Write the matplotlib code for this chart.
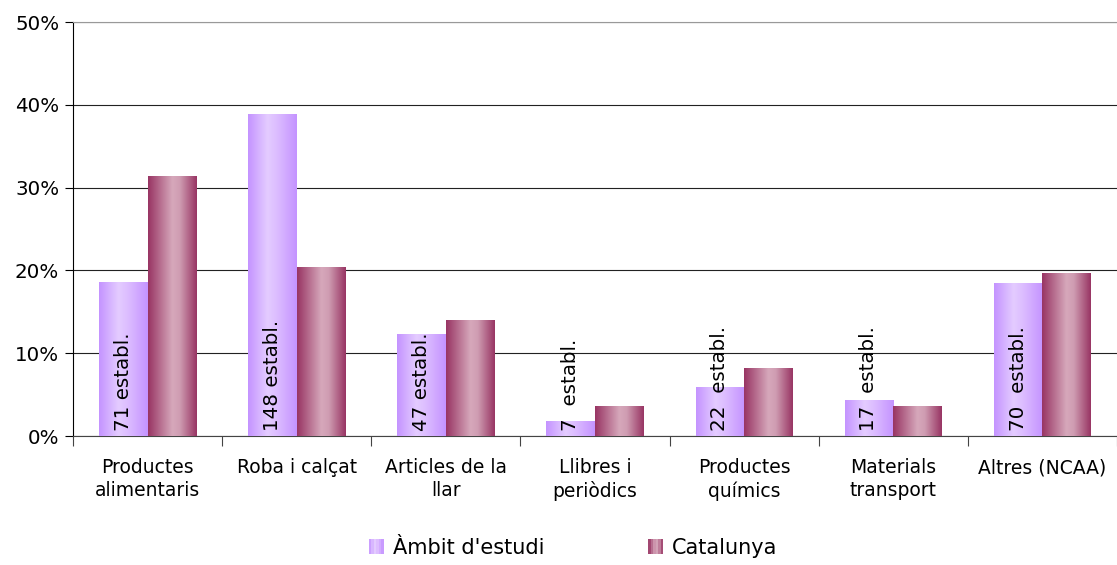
import numpy as np
import matplotlib
matplotlib.use("Agg")
import matplotlib.pyplot as plt
from matplotlib.colors import LinearSegmentedColormap
from matplotlib.patches import Rectangle
from matplotlib.legend_handler import HandlerBase

categories = ["Productes\nalimentaris", "Roba i calçat", "Articles de la\nllar",
              "Llibres i\nperiòdics", "Productes\nquímics", "Materials\ntransport",
              "Altres (NCAA)"]
ambit = [18.6, 38.8, 12.3, 1.8, 5.8, 4.3, 18.4]
catalunya = [31.3, 20.4, 13.9, 3.6, 8.1, 3.6, 19.6]
establ = ["71 establ.", "148 establ.", "47 establ.", "7  establ.",
          "22  establ.", "17  establ.", "70  establ."]
series_names = ["Àmbit d'estudi", "Catalunya"]

plt.rcParams['font.family'] = ['DejaVu Sans']

cmap_ambit = LinearSegmentedColormap.from_list(
    "ambit", [(0, "#c493ff"), (0.4, "#e4ccff"), (0.6, "#dcbcff"), (1, "#c493ff")])
cmap_cat = LinearSegmentedColormap.from_list(
    "cat", [(0, "#983463"), (0.5, "#d6a8bb"), (0.65, "#cf9db2"), (1, "#983463")])

fig = plt.figure(figsize=(11.17, 5.65), dpi=100)
ax = fig.add_axes([0.0654, 0.2283, 0.9346, 0.7327])

width = 0.326
x = np.arange(len(categories))
grad = np.linspace(0, 1, 256).reshape(1, -1)


def gradient_bar(x0, h, cmap):
    ax.imshow(grad, cmap=cmap, extent=(x0, x0 + width, 0, h), aspect='auto',
              interpolation='bicubic', zorder=3)


for i in x:
    gradient_bar(i - width, ambit[i], cmap_ambit)
    gradient_bar(i, catalunya[i], cmap_cat)
    ax.text(i - width / 2, 0.6, establ[i], rotation=90, ha='center', va='bottom',
            fontsize=14.3, color='black', zorder=4)

ax.set_xlim(-0.5, len(categories) - 0.5)
ax.set_ylim(0, 50)
ax.set_yticks(range(0, 51, 10))
ax.set_yticklabels([f"{v}%" for v in range(0, 51, 10)], fontsize=14.3)
ax.yaxis.grid(True, color='#222222', linewidth=0.8)
ax.set_axisbelow(True)

ax.set_xticks(x)
ax.set_xticklabels(categories, fontsize=13.5, linespacing=1.25)
ax.set_xticks(np.arange(-0.5, len(categories), 1), minor=True)
ax.tick_params(axis='x', which='major', length=0, pad=16)
ax.tick_params(axis='x', which='minor', length=7, width=0.8, direction='out', color='#444444')
ax.tick_params(axis='y', length=6, width=0.8, direction='out', pad=4)

ax.spines['right'].set_visible(False)
ax.spines['top'].set_color('#999999')
ax.spines['left'].set_color('black')
ax.spines['left'].set_linewidth(0.8)
ax.spines['bottom'].set_color('#444444')
ax.spines['bottom'].set_linewidth(0.8)


class GradientHandler(HandlerBase):
    def __init__(self, cmap):
        super().__init__()
        self.cmap = cmap

    def create_artists(self, legend, orig_handle, xdescent, ydescent, width, height,
                       fontsize, trans):
        n = 6
        side = min(width, height)
        artists = []
        for k in range(n):
            r = Rectangle((-xdescent + k * side / n, -ydescent), side / n, side,
                          facecolor=self.cmap((k + 0.5) / n), edgecolor='none',
                          transform=trans)
            artists.append(r)
        return artists


h1 = Rectangle((0, 0), 1, 1)
h2 = Rectangle((0, 0), 1, 1)
fig.legend([h1, h2], series_names, loc='center', bbox_to_anchor=(0.513, 0.03),
           ncol=2, frameon=False, fontsize=15, handlelength=0.75, handleheight=0.75,
           handletextpad=0.4, columnspacing=5.0,
           handler_map={h1: GradientHandler(cmap_ambit), h2: GradientHandler(cmap_cat)})

fig.savefig("out.png", dpi=100)
